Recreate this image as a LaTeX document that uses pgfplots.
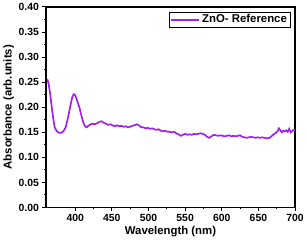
\documentclass[border=0pt]{standalone}
\usepackage{pgfplots}
\pgfplotsset{compat=1.18}
\usepackage{fontspec}
\setmainfont{Liberation Sans}
\definecolor{violetline}{RGB}{160,32,240}
\begin{document}
\begin{tikzpicture}
\begin{axis}[
  scale only axis,
  width=251bp, height=202bp,
  xmin=360, xmax=700, ymin=0, ymax=0.4,
  xtick={400,450,...,700},
  ytick={0,0.05,...,0.41},
  minor x tick num=1, minor y tick num=1,
  tick align=outside,
  tick pos=left,
  major tick length=3.5bp, minor tick length=2bp,
  every tick/.style={black, line width=1pt},
  axis line style={line width=1.5pt},
  /pgf/number format/assume math mode=true,
  yticklabel style={/pgf/number format/fixed, /pgf/number format/fixed zerofill, /pgf/number format/precision=2, font=\fontsize{10.5}{12}\selectfont\bfseries},
  xticklabel style={font=\fontsize{10.5}{12}\selectfont\bfseries},
  scaled y ticks=false,
  xlabel={Wavelength (nm)},
  ylabel={Absorbance (arb.units)},
  label style={font=\fontsize{11.5}{13}\selectfont\bfseries},
  xlabel style={yshift=2bp},
  ylabel style={yshift=-2bp},
  legend style={at={(rel axis cs:0.98,0.977)}, anchor=north east, draw=black,
    font=\fontsize{11.5}{13}\selectfont\bfseries, inner sep=1pt, row sep=0pt},
  legend cell align=left,
  legend image code/.code={\draw[#1] plot coordinates {(0cm,0cm) (0.5cm,0cm) (1cm,0cm)};},
  legend image post style={line width=2pt, draw=violetline},
]
\addplot[color=violetline, line width=1.7pt] coordinates {
(362,0.256)(364,0.245)(366,0.225)(368,0.200)(370,0.178)(372,0.160)(375,0.152)(378,0.149)(381,0.149)(384,0.152)
(387,0.160)(390,0.178)(393,0.200)(396,0.220)(398,0.226)(400,0.224)(402,0.216)(404,0.207)(406,0.198)(408,0.186)
(410,0.175)(412,0.166)(414,0.161)(416,0.160)(418,0.163)(421,0.166)(424,0.167)(427,0.166)(430,0.168)(433,0.171)
(436,0.172)(439,0.169)(442,0.167)(445,0.165)(448,0.166)(451,0.164)(454,0.162)(457,0.164)(460,0.162)(463,0.163)
(466,0.161)(469,0.162)(472,0.160)(475,0.161)(478,0.163)(481,0.164)(484,0.166)(487,0.164)(490,0.160)(493,0.160)
(496,0.158)(499,0.159)(502,0.157)(505,0.158)(508,0.156)(511,0.155)(514,0.156)(517,0.153)(520,0.152)(523,0.153)
(526,0.151)(529,0.151)(532,0.150)(535,0.151)(538,0.148)(541,0.146)(544,0.143)(547,0.145)(550,0.147)(553,0.145)
(556,0.146)(559,0.145)(562,0.147)(565,0.146)(568,0.147)(571,0.148)(574,0.147)(577,0.145)(580,0.141)(583,0.139)
(586,0.142)(589,0.145)(592,0.144)(595,0.143)(598,0.144)(601,0.143)(604,0.142)(607,0.143)(610,0.144)(613,0.142)
(616,0.143)(619,0.142)(622,0.143)(625,0.144)(628,0.141)(631,0.140)(634,0.139)(637,0.140)(640,0.141)(643,0.140)
(646,0.139)(649,0.140)(652,0.139)(655,0.140)(658,0.139)(661,0.138)(664,0.138)(667,0.141)(670,0.145)(673,0.148)
(676,0.152)(678,0.158)(680,0.154)(682,0.150)(684,0.153)(686,0.152)(688,0.154)(690,0.151)(692,0.157)(694,0.150)
(696,0.152)(698,0.155)(700,0.154)
};
\addlegendentry{ZnO- Reference}
\end{axis}
\end{tikzpicture}
\end{document}
